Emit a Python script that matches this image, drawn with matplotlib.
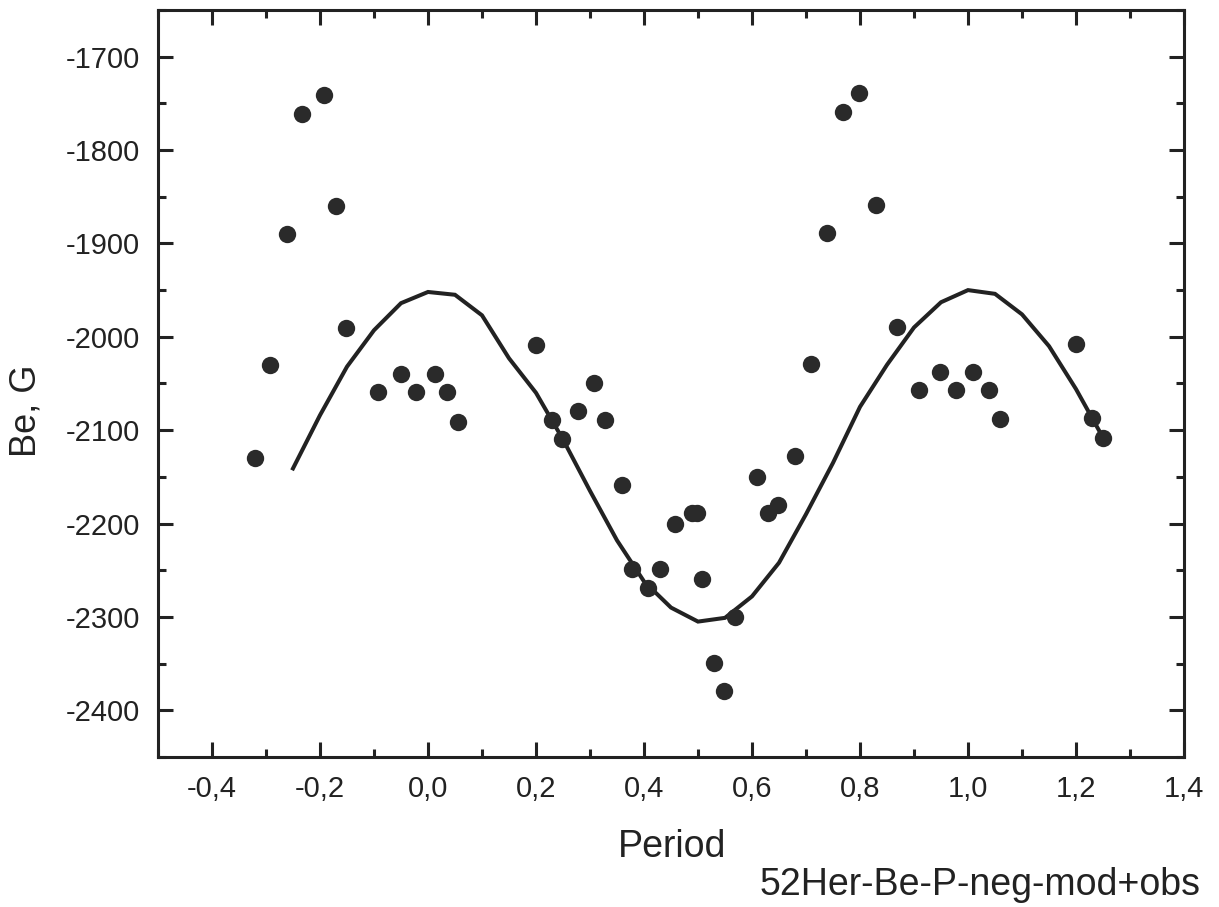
import numpy as np
import matplotlib
matplotlib.use("Agg")
import matplotlib.pyplot as plt
from matplotlib.ticker import MultipleLocator, FuncFormatter

plt.rcParams['font.family'] = ['Liberation Sans', 'DejaVu Sans']

# observed points (phase, Be in G)
obs_phase = [-0.321, -0.293, -0.262, -0.234, -0.193, -0.171, -0.152, -0.093, -0.050, -0.022,
             0.013, 0.035, 0.056, 0.200, 0.230, 0.249, 0.278, 0.308, 0.328, 0.360,
             0.378, 0.408, 0.429, 0.458, 0.488, 0.499, 0.508, 0.529, 0.549, 0.568,
             0.610, 0.629, 0.649, 0.679, 0.709, 0.738, 0.768, 0.798, 0.829, 0.868,
             0.909, 0.948, 0.978, 1.009, 1.039, 1.059, 1.200, 1.230, 1.250]
obs_be = [-2130, -2030, -1890, -1761, -1741, -1860, -1991, -2059, -2040, -2059,
          -2040, -2059, -2091, -2009, -2089, -2109, -2079, -2049, -2089, -2159,
          -2249, -2269, -2249, -2200, -2189, -2189, -2259, -2349, -2379, -2300,
          -2150, -2189, -2180, -2128, -2029, -1889, -1759, -1739, -1859, -1989,
          -2057, -2038, -2057, -2038, -2057, -2088, -2008, -2087, -2108]

# model curve
mod_phase = [-0.25, -0.20, -0.15, -0.10, -0.05, 0.00, 0.05, 0.10, 0.15, 0.20,
             0.25, 0.30, 0.35, 0.40, 0.45, 0.50, 0.55, 0.60, 0.65, 0.70,
             0.75, 0.80, 0.85, 0.90, 0.95, 1.00, 1.05, 1.10, 1.15, 1.20, 1.25]
mod_be = [-2141, -2084, -2032, -1993, -1964, -1952, -1955, -1977, -2023, -2060,
          -2110, -2165, -2218, -2262, -2290, -2305, -2301, -2278, -2242, -2190,
          -2135, -2075, -2030, -1990, -1963, -1950, -1954, -1976, -2010, -2056, -2108]

fig = plt.figure(figsize=(12.19, 9.07), dpi=100)
ax = fig.add_axes([0.1296, 0.1654, 0.8417, 0.8236])

ax.plot(mod_phase, mod_be, color='#222222', lw=2.9, solid_joinstyle='miter')
ax.plot(obs_phase, obs_be, 'o', color='#2a2a2a', ms=12.5, mew=0)

ax.set_xlim(-0.5, 1.4)
ax.set_ylim(-2450, -1650)
ax.xaxis.set_major_locator(MultipleLocator(0.2))
ax.xaxis.set_minor_locator(MultipleLocator(0.1))
ax.yaxis.set_major_locator(MultipleLocator(100))
ax.yaxis.set_minor_locator(MultipleLocator(50))
ax.xaxis.set_major_formatter(FuncFormatter(lambda v, p: f"{v:.1f}".replace('.', ',').replace('-0,0', '0,0')))
ax.yaxis.set_major_formatter(FuncFormatter(lambda v, p: f"{v:.0f}"))

ax.tick_params(which='both', direction='in', top=True, right=True, width=2.2,
               labelsize=21, colors='#222222', pad=13)
ax.tick_params(which='major', length=11)
ax.tick_params(which='minor', length=5.5)
for s in ax.spines.values():
    s.set_linewidth(2.2)
    s.set_color('#222222')

fig.text(0.021, 0.547, 'Be, G', rotation=90, fontsize=26, color='#222222', ha='center', va='center')
fig.text(0.551, 0.066, 'Period', fontsize=27, color='#222222', ha='center', va='center')
fig.text(0.985, 0.024, '52Her-Be-P-neg-mod+obs', fontsize=27, color='#222222', ha='right', va='center')

fig.savefig('out.png', dpi=100)
